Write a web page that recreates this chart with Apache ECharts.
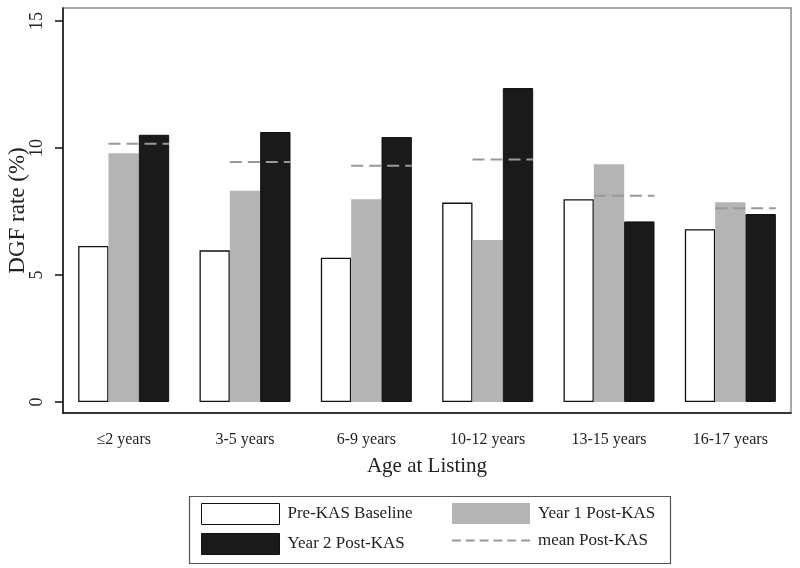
<!DOCTYPE html>
<html>
<head>
<meta charset="utf-8">
<script src="https://cdn.jsdelivr.net/npm/echarts@6/dist/echarts.min.js"></script>
<style>html,body{margin:0;padding:0;background:#fff}#chart{width:800px;height:568px}</style>
</head>
<body>
<div id="chart"></div>
<script>
var categories = ['\u22642 years', '3-5 years', '6-9 years', '10-12 years', '13-15 years', '16-17 years'];
var preKAS = [6.14, 5.97, 5.68, 7.85, 7.98, 6.80];
var year1Post = [9.79, 8.32, 7.98, 6.38, 9.36, 7.86];
var year2Post = [10.52, 10.63, 10.43, 12.36, 7.11, 7.40];
var meanPost = [10.17, 9.45, 9.30, 9.55, 8.12, 7.63];
var yTicks = [0, 5, 10, 15];

var FONT = 'Liberation Serif';
var chart = echarts.init(document.getElementById('chart'), null, {renderer: 'canvas'});
var dashIcon = 'path://M0,0h9v2h-9z M14,0h9v2h-9z M28,0h9v2h-9z M42,0h9v2h-9z M56,0h9v2h-9z M70,0h9v2h-9z';

var option = {
  backgroundColor: '#fff',
  animation: false,
  grid: {left: 63, right: 9, top: 8, bottom: 155, containLabel: false, outerBoundsMode: 'none', show: true, borderColor: '#8a8a8a', borderWidth: 1.5, backgroundColor: 'transparent'},
  xAxis: {
    type: 'category',
    data: categories,
    boundaryGap: true,
    name: 'Age at Listing',
    nameLocation: 'middle',
    nameGap: 43,
    nameTextStyle: {fontFamily: FONT, fontSize: 21, color: '#222'},
    axisLine: {onZero: false, lineStyle: {color: '#111', width: 1.5}},
    axisTick: {alignWithLabel: true, length: 8, lineStyle: {color: '#111', width: 1.5}},
    axisLabel: {fontFamily: FONT, fontSize: 16, color: '#222', margin: 19, interval: 0}
  },
  yAxis: {
    type: 'value',
    min: -0.433,
    max: 15.512,
    name: 'DGF rate (%)',
    nameLocation: 'middle',
    nameRotate: 90,
    nameGap: 34,
    nameMoveOverlap: false,
    nameTextStyle: {fontFamily: FONT, fontSize: 23, color: '#222'},
    splitLine: {show: false},
    axisLine: {show: true, onZero: false, lineStyle: {color: '#111', width: 1.5}},
    axisTick: {show: true, length: 8, customValues: yTicks, lineStyle: {color: '#111', width: 1.5}},
    axisLabel: {rotate: 90, customValues: yTicks, fontFamily: FONT, fontSize: 18, color: '#222', margin: 17}
  },
  legend: [
    {
      orient: 'vertical', left: 196, top: 498,
      data: [{name: 'Pre-KAS Baseline', icon: 'rect'}, {name: 'Year 2 Post-KAS', icon: 'rect'}],
      itemWidth: 78, itemHeight: 21, itemGap: 8,
      itemStyle: {borderWidth: 1},
      textStyle: {fontFamily: FONT, fontSize: 17, color: '#222', padding: [0, 0, 0, 3]},
      selectedMode: false
    },
    {
      orient: 'vertical', left: 447, top: 498,
      data: [{name: 'Year 1 Post-KAS', icon: 'rect'}, {name: 'mean Post-KAS', icon: dashIcon}],
      itemWidth: 78, itemHeight: 21, itemGap: 8,
      textStyle: {fontFamily: FONT, fontSize: 17, color: '#222', padding: [0, 0, 0, 3]},
      selectedMode: false
    }
  ],
  graphic: [
    {type: 'rect', left: 187, top: 494, shape: {width: 481, height: 67}, style: {fill: 'none', stroke: '#555', lineWidth: 1.2}, silent: true}
  ],
  series: [
    {
      name: 'Pre-KAS Baseline', type: 'bar', data: preKAS,
      barWidth: '25%', barGap: '0%',
      itemStyle: {color: '#ffffff', borderColor: '#111', borderWidth: 1.3}
    },
    {
      name: 'Year 1 Post-KAS', type: 'bar', data: year1Post,
      barWidth: '25%', barGap: '0%',
      itemStyle: {color: '#b4b4b4'}
    },
    {
      name: 'Year 2 Post-KAS', type: 'bar', data: year2Post,
      barWidth: '25%', barGap: '0%',
      itemStyle: {color: '#1a1a1a', borderColor: '#111', borderWidth: 1}
    },
    {
      name: 'mean Post-KAS', type: 'custom', z: 10,
      itemStyle: {color: '#999999'},
      data: meanPost.map(function (v, i) { return [i, v]; }),
      encode: {x: 0, y: 1},
      renderItem: function (params, api) {
        var c = api.coord([api.value(0), api.value(1)]);
        var bw = api.size([1, 0])[0];
        return {
          type: 'line',
          shape: {x1: c[0] - 0.125 * bw, y1: c[1], x2: c[0] + 0.375 * bw, y2: c[1]},
          style: {stroke: '#999999', lineWidth: 2, lineDash: [12, 6]}
        };
      }
    }
  ]
};
chart.setOption(option);
</script>
</body>
</html>
